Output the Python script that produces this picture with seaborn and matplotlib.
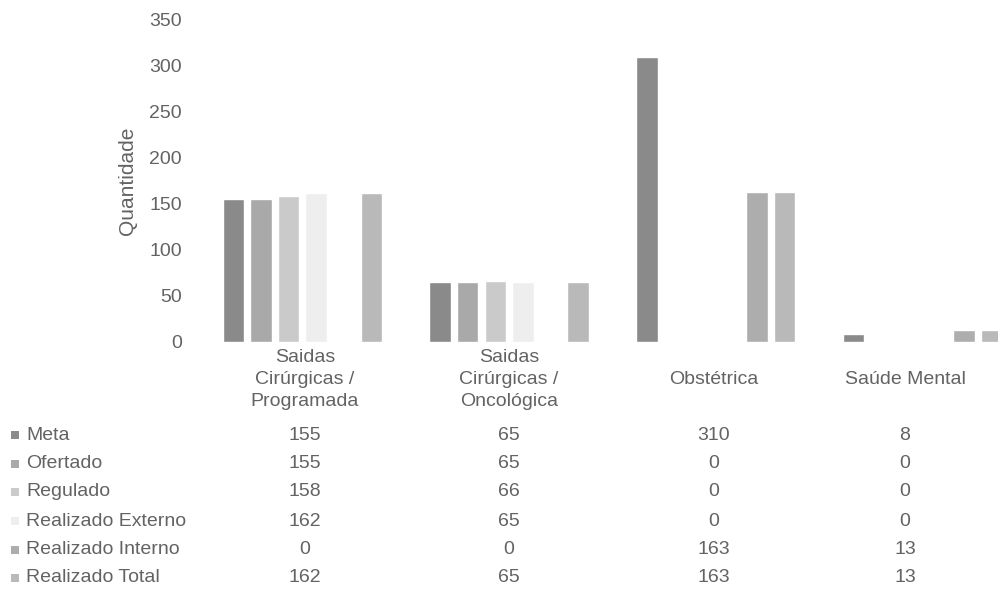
import pandas as pd
import matplotlib
matplotlib.use('Agg')
import matplotlib.pyplot as plt
import seaborn as sns
from matplotlib.patches import Rectangle

# dados
categorias = ['Saidas\nCirúrgicas /\nProgramada', 'Saidas\nCirúrgicas /\nOncológica',
              'Obstétrica', 'Saúde Mental']
series = ['Meta', 'Ofertado', 'Regulado', 'Realizado Externo', 'Realizado Interno', 'Realizado Total']
meta = [155, 65, 310, 8]
ofertado = [155, 65, 0, 0]
regulado = [158, 66, 0, 0]
realizado_externo = [162, 65, 0, 0]
realizado_interno = [0, 0, 163, 13]
realizado_total = [162, 65, 163, 13]
yticks = [0, 50, 100, 150, 200, 250, 300, 350]

cores = ['#8a8a8a', '#a9a9a9', '#cacaca', '#eeeeee', '#adadad', '#b9b9b9']
cor_texto = '#636363'
fs = 14

valores = [meta, ofertado, regulado, realizado_externo, realizado_interno, realizado_total]
linhas = []
for s, vals in zip(series, valores):
    for c, v in zip(categorias, vals):
        linhas.append({'categoria': c, 'serie': s, 'valor': v})
df = pd.DataFrame(linhas)

sns.set_style('white')
plt.rcParams['font.family'] = ['Liberation Sans', 'DejaVu Sans']

W, H = 998, 598
fig = plt.figure(figsize=(W / 100, H / 100), dpi=100)
ax = fig.add_axes([199 / W, 1 - 341.5 / H, 799 / W, 321.5 / H])

sns.barplot(data=df, x='categoria', y='valor', hue='serie', order=categorias,
            hue_order=series, palette=cores, width=0.8, gap=0.22, saturation=1,
            legend=False, ax=ax)

ax.set_xlim(-0.5, 3.365)
ax.set_ylim(0, 350)
ax.set_yticks(yticks)
ax.set_xticks([])
ax.set_xlabel('')
ax.set_ylabel('Quantidade', fontsize=15, color=cor_texto)
ax.yaxis.set_label_coords(-0.077, 0.5)
ax.tick_params(axis='y', length=0, pad=12.5, labelsize=fs, labelcolor=cor_texto)
for sp in ax.spines.values():
    sp.set_visible(False)
ax.axhline(0, color='#bdbdbd', lw=0.8, ls=(0, (1, 3)), zorder=0)

# tabela de dados abaixo do grafico
col_x = [305, 509, 714, 905]
row_y = [435, 463.5, 492, 521, 549.5, 578]

for cx, c in zip(col_x, categorias):
    fig.text(cx / W, 1 - 379.5 / H, c, ha='center', va='center', fontsize=fs,
             color=cor_texto, linespacing=1.35)

for ry, s, cor, vals in zip(row_y, series, cores, valores):
    fig.patches.append(Rectangle((11 / W, 1 - (ry + 4) / H), 8 / W, 8 / H,
                                 transform=fig.transFigure, facecolor=cor,
                                 edgecolor='none'))
    fig.text(26 / W, 1 - ry / H, s, ha='left', va='center', fontsize=fs, color=cor_texto)
    for cx, v in zip(col_x, vals):
        fig.text(cx / W, 1 - ry / H, str(v), ha='center', va='center',
                 fontsize=fs, color=cor_texto)

fig.savefig('out.png', dpi=100)
